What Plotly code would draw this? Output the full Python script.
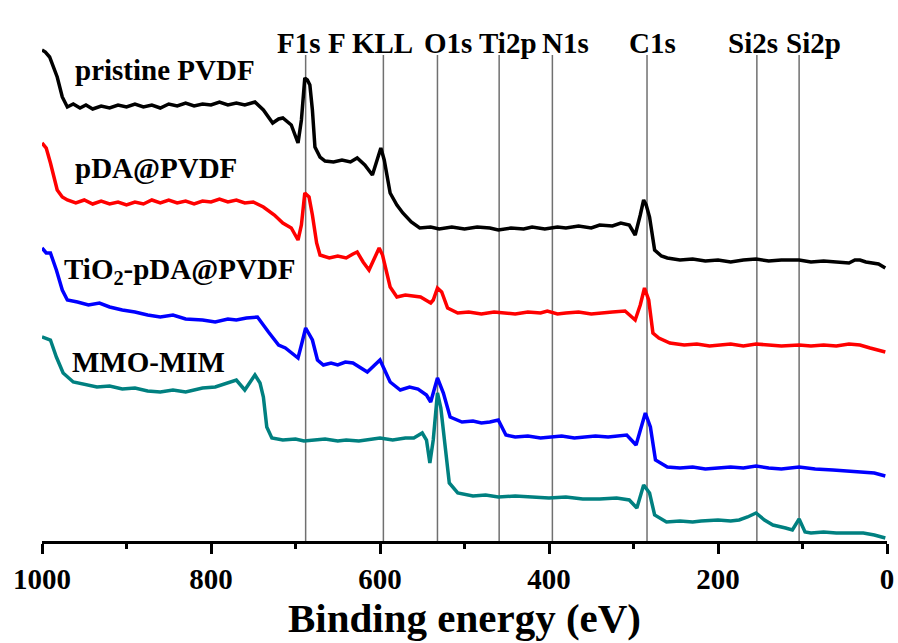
import plotly.graph_objects as go

# ---------------- data (binding energy in eV, intensity in arbitrary units) ----------------
pvdf_ev = [1000, 996, 991, 982, 976, 970, 963, 955, 948, 940, 930, 920, 910, 900, 890, 880, 870, 860,
           850, 840, 830, 820, 810, 800, 790, 780, 770, 760, 748,
           738, 727, 720, 715, 705, 697, 693, 689, 686, 683, 680, 677, 671, 665, 655, 645, 635, 627,
           618, 609, 603, 599, 595, 588, 580, 573, 563, 553, 540, 530, 515, 500, 485, 470, 460, 445,
           430, 420, 405, 390, 380, 365, 350, 340, 325, 315, 305,
           298, 292, 288, 285, 281, 275, 267, 260, 245, 230, 215, 200, 185, 170, 155, 140, 125, 104,
           90, 75, 60, 45, 38, 32, 25, 10, 2]
pvdf_int = [491, 489, 484, 464, 444, 434, 437, 433, 436, 432, 435, 433, 436, 434, 437, 434, 436, 433,
            437, 435, 438, 435, 437, 436, 439, 436, 438, 436, 439,
            431, 418, 422, 423, 416, 398, 421, 463, 461, 456, 431, 394, 384, 380, 379, 381, 379, 383,
            376, 366, 383, 393, 381, 348, 336, 328, 319, 313, 314, 312, 314, 312, 314, 313, 311, 313,
            312, 314, 312, 314, 313, 315, 313, 316, 315, 318, 316,
            306, 326, 341, 336, 324, 291, 285, 283, 281, 282, 280, 281, 279, 281, 282, 280, 281, 281,
            279, 280, 279, 278, 281, 281, 279, 277, 273]

pda_ev = [1000, 995, 990, 982, 976, 970, 960, 950, 940, 930, 920, 910, 900, 890, 880, 870, 860, 850,
          840, 830, 820, 810, 800, 790, 780, 770, 760, 750, 738, 725, 715, 705, 697, 693,
          689, 684, 680, 675, 671, 660, 650, 640, 632, 627, 620, 613, 601, 597, 588, 580, 570, 560,
          552, 540, 537, 532, 527, 520, 508, 495, 480, 465, 450, 440, 425, 410, 402, 390, 380, 365,
          350, 340, 325, 310, 298, 292, 287, 282, 277, 270, 257,
          240, 225, 210, 200, 185, 170, 155, 140, 125, 104, 90, 75, 60, 45, 32, 20, 2]
pda_int = [398, 393, 378, 351, 344, 341, 338, 341, 337, 340, 337, 339, 336, 339, 337, 341, 338, 341,
           338, 340, 337, 340, 339, 342, 339, 341, 338, 339, 334, 326, 318, 313, 301, 316,
           348, 344, 326, 298, 286, 283, 285, 283, 287, 289, 279, 271, 293, 286, 254, 244, 246, 245,
           244, 238, 241, 253, 249, 233, 228, 229, 227, 229, 228, 227, 229, 228, 230, 227, 228, 229,
           227, 228, 229, 230, 221, 236, 253, 241, 208, 203, 198,
           196, 197, 195, 196, 197, 195, 197, 196, 195, 196, 195, 196, 195, 197, 196, 193, 189]

tio2_ev = [1000, 995, 990, 983, 976, 970, 958, 945, 932, 920, 905, 890, 875, 860, 845, 830, 810, 795,
           780, 770, 758, 745, 732, 720, 712, 697, 693, 688,
           680, 674, 667, 658, 650, 641, 632, 615, 600, 588, 576, 565, 555, 545, 540, 532, 525, 517,
           503, 490, 480, 470, 460, 451, 440, 425, 410, 400, 385, 370, 360, 345, 330, 320, 308, 297,
           290, 286, 280, 274, 260, 245, 230, 215, 200, 185, 170, 155, 140, 125, 104, 85, 64, 45, 30,
           15, 2]
tio2_int = [293, 288, 288, 271, 251, 241, 239, 236, 238, 234, 231, 229, 226, 224, 226, 222, 221, 219,
            222, 221, 223, 224, 209, 196, 193, 183, 196, 213,
            201, 181, 176, 178, 176, 179, 178, 169, 181, 159, 151, 154, 152, 146, 139, 163, 148, 124,
            119, 120, 118, 119, 121, 106, 104, 105, 103, 104, 105, 103, 104, 105, 104, 105, 106, 96,
            116, 128, 114, 81, 74, 73, 74, 72, 73, 74, 73, 75, 73, 72, 74, 72, 71, 70, 69,
            68, 65]

mmo_ev = [1000, 990, 983, 975, 963, 950, 935, 920, 905, 890, 875, 860, 845, 830, 810, 795, 777, 770,
          760, 748, 742, 738, 734, 728, 715, 700, 690, 680, 665, 650, 640, 625, 610, 600, 585, 570,
          560, 550, 545, 541, 537, 532, 528, 522, 518, 508, 490, 475, 460, 440, 420, 400, 380, 360,
          340, 320, 305, 296, 288, 281, 275, 261, 245, 230, 220, 200, 185, 175, 165, 155, 145, 135,
          120, 112, 104, 97, 90, 75, 60, 45, 28, 15, 2]
mmo_int = [204, 201, 184, 168, 159, 157, 154, 155, 152, 153, 150, 149, 151, 149, 153, 154, 159, 161,
           151, 166, 158, 144, 114, 103, 101, 102, 100, 101, 102, 100, 101, 100, 102, 103, 101, 103,
           103, 108, 101, 78, 101, 148, 133, 91, 58, 48, 45, 46, 44, 45, 44, 43, 44, 42,
           42, 43, 41, 33, 56, 48, 26, 19, 20, 19, 20, 21, 20, 21, 24, 28, 21, 16,
           13, 11, 22, 9, 8, 9, 8, 8, 8, 6, 3]

series_names = ["pristine PVDF", "pDA@PVDF", "TiO<sub>2</sub>-pDA@PVDF", "MMO-MIM"]

peak_names = ["F1s", "F KLL", "O1s", "Ti2p", "N1s", "C1s", "Si2s", "Si2p"]
peak_ev = [688, 596, 532, 459, 396, 284, 154, 104]

x_ticks = [1000, 800, 600, 400, 200, 0]

# ---------------- styling ----------------
FONT = "Liberation Serif, Times New Roman, serif"
colors = ["#000000", "#ff0000", "#0000ff", "#008080"]
label_pos = [(963, 471), (963, 373), (976, 270), (967, 179)]          # series label anchors
peak_label_x = [696.4, 610.7, 520, 449, 380.5, 278, 158.6, 86.4]     # peak label centers
PEAK_LABEL_Y = 498
LINE_TOP = 486

fig = go.Figure()

# vertical reference lines
for e in peak_ev:
    fig.add_shape(type="line", x0=e, x1=e, y0=0, y1=LINE_TOP, xref="x", yref="y",
                  line=dict(color="#707070", width=1.5), layer="below")

all_ev = [pvdf_ev, pda_ev, tio2_ev, mmo_ev]
all_int = [pvdf_int, pda_int, tio2_int, mmo_int]
for ev, inten, c, name in zip(all_ev, all_int, colors, series_names):
    fig.add_trace(go.Scatter(x=ev, y=inten, mode="lines", name=name,
                             line=dict(color=c, width=3.5), cliponaxis=False))

for name, (lx, ly) in zip(series_names, label_pos):
    fig.add_annotation(x=lx, y=ly, text=name, showarrow=False, xanchor="left", yanchor="middle",
                       font=dict(family=FONT, size=29, color="black", weight="bold"))

for name, lx in zip(peak_names, peak_label_x):
    fig.add_annotation(x=lx, y=PEAK_LABEL_Y, text=name, showarrow=False, xanchor="center",
                       yanchor="middle",
                       font=dict(family=FONT, size=29, color="black", weight="bold"))

fig.update_layout(
    width=898, height=643,
    margin=dict(l=42, r=11, t=0, b=102),
    paper_bgcolor="white", plot_bgcolor="white",
    showlegend=False,
    font=dict(family=FONT, color="black"),
)
fig.update_xaxes(
    range=[1000, 0], tickvals=x_ticks, ticks="outside", ticklen=10, tickwidth=3, tickcolor="black",
    showline=True, linewidth=3, linecolor="black", showgrid=False, zeroline=False,
    tickfont=dict(family=FONT, size=29, color="black", weight="bold"),
    minor=dict(dtick=100, ticks="outside", ticklen=5, tickwidth=3, tickcolor="black", showgrid=False),
    title=dict(text="Binding energy (eV)", standoff=6,
               font=dict(family=FONT, size=41, color="black", weight="bold")),
)
fig.update_yaxes(range=[0, 541], visible=False)

fig.write_html("out.html")
